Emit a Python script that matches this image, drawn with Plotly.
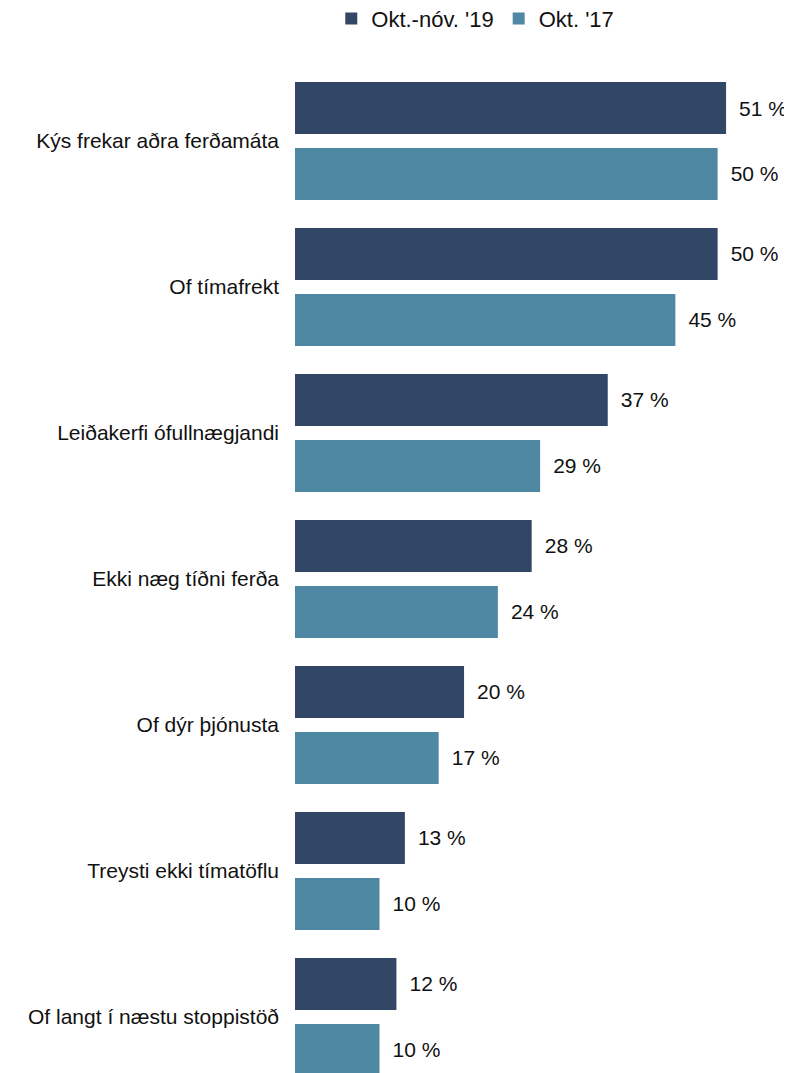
import plotly.graph_objects as go

categories = [
    "Kýs frekar aðra ferðamáta",
    "Of tímafrekt",
    "Leiðakerfi ófullnægjandi",
    "Ekki næg tíðni ferða",
    "Of dýr þjónusta",
    "Treysti ekki tímatöflu",
    "Of langt í næstu stoppistöð",
]
series_names = ["Okt.-nóv. '19", "Okt. '17"]
values_2019 = [51, 50, 37, 28, 20, 13, 12]
values_2017 = [50, 45, 29, 24, 17, 10, 10]

colors = ["#324666", "#4f88a3"]
FONT = "Liberation Sans, Arial, sans-serif"

fig = go.Figure()
for name, vals, col, off in [
    (series_names[0], values_2019, colors[0], -0.404),
    (series_names[1], values_2017, colors[1], 0.048),
]:
    fig.add_trace(go.Bar(
        y=categories, x=vals, name=name, orientation="h",
        marker=dict(color=col, line=dict(width=0)),
        offset=off, width=0.356,
        text=[f"\u00a0\u2009{v} %" for v in vals],
        textposition="outside", constraintext="none",
        textfont=dict(family=FONT, size=21, color="#111111"),
        cliponaxis=False,
    ))

fig.update_layout(
    width=784, height=1065,
    margin=dict(l=287, r=0, t=60, b=0, autoexpand=False),
    barmode="overlay",
    plot_bgcolor="white", paper_bgcolor="white",
    font=dict(family=FONT, size=21, color="#111111"),
    showlegend=True,
    legend=dict(
        orientation="h", x=0.073, xanchor="left", y=1.07, yanchor="top",
        font=dict(family=FONT, size=22, color="#111111"),
        traceorder="normal", itemwidth=30,
    ),
    xaxis=dict(range=[0, 58.8], visible=False, showgrid=False, zeroline=False),
    yaxis=dict(
        type="category", categoryorder="array", categoryarray=categories,
        range=[6.384, -0.5], showgrid=False, zeroline=False, showline=False,
        ticks="", ticklabelstandoff=15,
        tickfont=dict(family=FONT, size=21, color="#111111"),
    ),
)

fig.write_html("out.html")
